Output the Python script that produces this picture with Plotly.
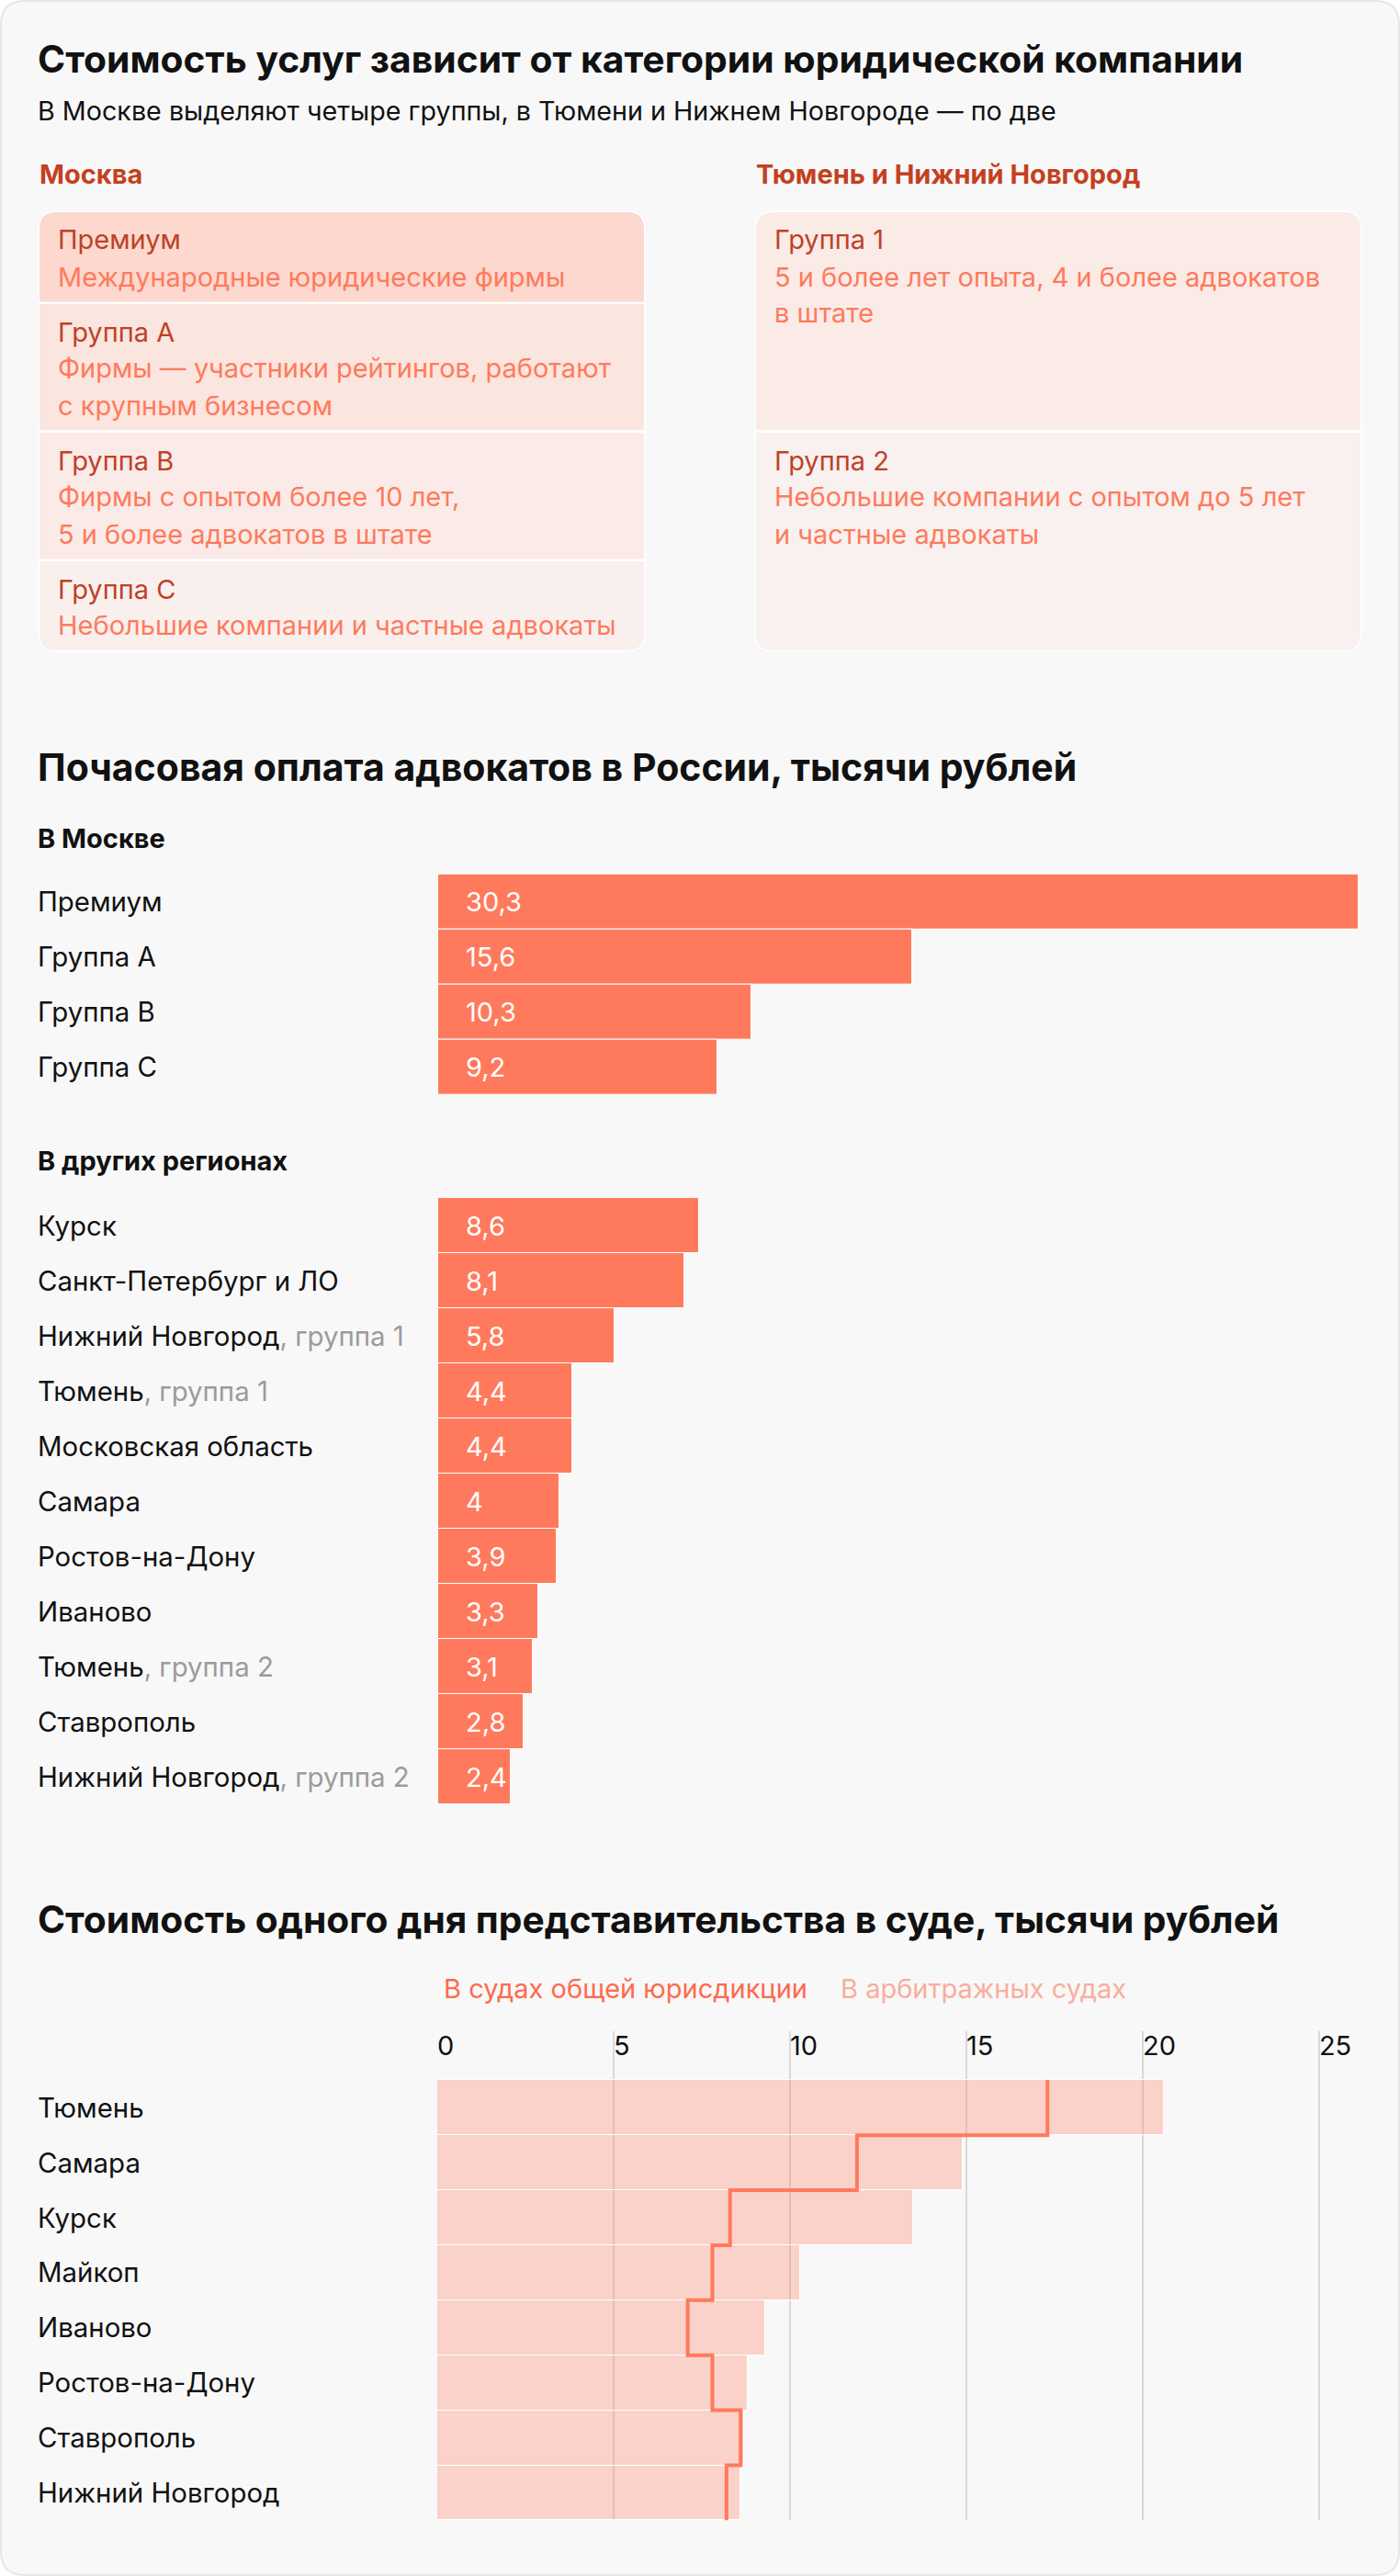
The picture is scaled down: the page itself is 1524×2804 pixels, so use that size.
import plotly.graph_objects as go

W, H = 1524, 2804
FONT = "Inter"

# ---------------- data ----------------
moscow_groups = ["Премиум", "Группа A", "Группа B", "Группа C"]
moscow_rates = [30.3, 15.6, 10.3, 9.2]

region_names = ["Курск", "Санкт-Петербург и ЛО", "Нижний Новгород", "Тюмень",
                "Московская область", "Самара", "Ростов-на-Дону", "Иваново",
                "Тюмень", "Ставрополь", "Нижний Новгород"]
region_groups = ["", "", ", группа 1", ", группа 1", "", "", "", "",
                 ", группа 2", "", ", группа 2"]
region_rates = [8.6, 8.1, 5.8, 4.4, 4.4, 4, 3.9, 3.3, 3.1, 2.8, 2.4]

court_cities = ["Тюмень", "Самара", "Курск", "Майкоп", "Иваново",
                "Ростов-на-Дону", "Ставрополь", "Нижний Новгород"]
court_general = [17.3, 11.9, 8.3, 7.8, 7.1, 7.8, 8.6, 8.2]
court_arbitration = [20.6, 14.9, 13.5, 10.3, 9.3, 8.8, 8.7, 8.6]
court_ticks = [0, 5, 10, 15, 20, 25]

moscow_table = [
    ("Премиум", ["Международные юридические фирмы"]),
    ("Группа A", ["Фирмы — участники рейтингов, работают", "с крупным бизнесом"]),
    ("Группа B", ["Фирмы с опытом более 10 лет,", "5 и более адвокатов в штате"]),
    ("Группа C", ["Небольшие компании и частные адвокаты"]),
]
regions_table = [
    ("Группа 1", ["5 и более лет опыта, 4 и более адвокатов", "в штате"]),
    ("Группа 2", ["Небольшие компании с опытом до 5 лет", "и частные адвокаты"]),
]

CORAL = "#ff7a5c"
DARK_RED = "#bf4126"
TITLE = "#111111"


def X(px):
    return px / W


def Y(py):
    return 1 - py / H


def rr(x0, y0, x1, y1, rt, rb):
    return (f"M{X(x0 + rt)},{Y(y0)} L{X(x1 - rt)},{Y(y0)} Q{X(x1)},{Y(y0)} {X(x1)},{Y(y0 + rt)} "
            f"L{X(x1)},{Y(y1 - rb)} Q{X(x1)},{Y(y1)} {X(x1 - rb)},{Y(y1)} "
            f"L{X(x0 + rb)},{Y(y1)} Q{X(x0)},{Y(y1)} {X(x0)},{Y(y1 - rb)} "
            f"L{X(x0)},{Y(y0 + rt)} Q{X(x0)},{Y(y0)} {X(x0 + rt)},{Y(y0)} Z")


shapes = []
annotations = []


def shape(path, fill, line=None, lw=0):
    shapes.append(dict(type="path", xref="paper", yref="paper", path=path,
                       fillcolor=fill, line=dict(color=line or fill, width=lw),
                       layer="below"))


def txt(x, y, s, size=29, color=TITLE, bold=False):
    annotations.append(dict(xref="paper", yref="paper", x=X(x), y=Y(y), text=s,
                            showarrow=False, xanchor="left", yanchor="middle",
                            font=dict(family=FONT, size=size, color=color,
                                      weight=700 if bold else 400)))


# card
shape(rr(1, 1, 1523, 2803, 26, 26), "#f8f8f8", "#e6e6e6", 2)

# ---------------- section 1 : tables ----------------
txt(39, 64, "Стоимость услуг зависит от категории юридической компании", 40.8, TITLE, True)
txt(39, 121, "В Москве выделяют четыре группы, в Тюмени и Нижнем Новгороде — по две", 28.7, TITLE)
txt(41, 190, "Москва", 29, "#c4401f", True)
txt(821, 190, "Тюмень и Нижний Новгород", 29, "#c4401f", True)

# left table
shape(rr(41.5, 229.5, 702.5, 709.5, 20, 20), "#ffffff")
left_rows = [(231, 328.5, "#fcd8cf"), (331, 468, "#fbe5df"), (471, 608.5, "#faebe8"), (611, 708, "#f9f0ee")]
for i, (t, b, c) in enumerate(left_rows):
    shape(rr(43, t, 701, b, 18 if i == 0 else 0, 18 if i == len(left_rows) - 1 else 0), c)
for (t, b, c), (head, lines) in zip(left_rows, moscow_table):
    txt(61, t + 30, head, 29, DARK_RED)
    for k, ln in enumerate(lines):
        txt(61, t + 70 + 40 * k, ln, 29, CORAL)

# right table
shape(rr(821.5, 229.5, 1482.5, 709.5, 20, 20), "#ffffff")
right_rows = [(231, 468, "#fbebe7"), (471, 708, "#f8f1ef")]
for i, (t, b, c) in enumerate(right_rows):
    shape(rr(823, t, 1481, b, 18 if i == 0 else 0, 18 if i == 1 else 0), c)
for (t, b, c), (head, lines) in zip(right_rows, regions_table):
    txt(841, t + 30, head, 29, DARK_RED)
    for k, ln in enumerate(lines):
        txt(841, t + 70 + 40 * k, ln, 29, CORAL)

# ---------------- section 2 : hourly rates ----------------
txt(39, 835, "Почасовая оплата адвокатов в России, тысячи рублей", 41, TITLE, True)
txt(39, 912, "В Москве", 29, TITLE, True)
txt(39, 1264, "В других регионах", 29, TITLE, True)


def fmt(v):
    return f"{v:g}".replace(".", ",")


fig = go.Figure()

fig.add_trace(go.Bar(x=moscow_rates, y=list(range(len(moscow_rates))), orientation="h",
                     width=1, marker=dict(color=CORAL, line=dict(color="#ffffff", width=1)),
                     xaxis="x", yaxis="y", hoverinfo="skip"))
fig.add_trace(go.Bar(x=region_rates, y=list(range(len(region_rates))), orientation="h",
                     width=1, marker=dict(color=CORAL, line=dict(color="#ffffff", width=1)),
                     xaxis="x2", yaxis="y2", hoverinfo="skip"))

LBL = 29.4
for i, (name, v) in enumerate(zip(moscow_groups, moscow_rates)):
    annotations.append(dict(xref="paper", yref="y", x=X(39), y=i, text=name, showarrow=False,
                            xanchor="left", yanchor="middle",
                            font=dict(family=FONT, size=LBL, color=TITLE)))
    annotations.append(dict(xref="x", yref="y", x=0, y=i, xshift=28, text=fmt(v), showarrow=False,
                            xanchor="left", yanchor="middle",
                            font=dict(family=FONT, size=29, color="#ffffff")))

for i, (name, grp, v) in enumerate(zip(region_names, region_groups, region_rates)):
    label = name + (f"<span style='color:#9b9b9b'>{grp}</span>" if grp else "")
    annotations.append(dict(xref="paper", yref="y2", x=X(39), y=i, text=label, showarrow=False,
                            xanchor="left", yanchor="middle",
                            font=dict(family=FONT, size=LBL, color=TITLE)))
    annotations.append(dict(xref="x2", yref="y2", x=0, y=i, xshift=28, text=fmt(v), showarrow=False,
                            xanchor="left", yanchor="middle",
                            font=dict(family=FONT, size=29, color="#ffffff")))

# ---------------- section 3 : court day ----------------
txt(39, 2089, "Стоимость одного дня представительства в суде, тысячи рублей", 40.7, TITLE, True)
txt(481, 2164, "В судах общей юрисдикции", 29, "#ff6a4d")
txt(913, 2164, "В арбитражных судах", 29, "#f8ae9d")

fig.add_trace(go.Bar(x=court_arbitration, y=list(range(len(court_arbitration))), orientation="h",
                     width=1, marker=dict(color="rgba(255,122,92,0.30)", line=dict(color="#ffffff", width=1)),
                     xaxis="x3", yaxis="y3", hoverinfo="skip"))

step_x, step_y = [], []
for i, v in enumerate(court_general):
    step_x += [v, v]
    step_y += [i - 0.5, i + 0.5]
fig.add_trace(go.Scatter(x=step_x, y=step_y, mode="lines",
                         line=dict(color=CORAL, width=4),
                         xaxis="x3", yaxis="y3", hoverinfo="skip"))

for i, name in enumerate(court_cities):
    annotations.append(dict(xref="paper", yref="y3", x=X(39), y=i, text=name, showarrow=False,
                            xanchor="left", yanchor="middle",
                            font=dict(family=FONT, size=LBL, color=TITLE)))

hidden = dict(visible=False, showgrid=False, zeroline=False, fixedrange=True)

fig.update_layout(
    width=W, height=H,
    margin=dict(l=0, r=0, t=0, b=0),
    paper_bgcolor="#ffffff", plot_bgcolor="rgba(0,0,0,0)",
    showlegend=False, bargap=0,
    font=dict(family=FONT),
    xaxis=dict(domain=[X(477), X(1482)], range=[0, 30.39], anchor="y", **hidden),
    yaxis=dict(domain=[Y(1191.7), Y(951.7)], range=[3.5, -0.5], anchor="x", **hidden),
    xaxis2=dict(domain=[X(477), X(1482)], range=[0, 30.39], anchor="y2", **hidden),
    yaxis2=dict(domain=[Y(1964), Y(1304)], range=[10.5, -0.5], anchor="x2", **hidden),
    xaxis3=dict(domain=[X(476), X(1482)], range=[0, 26.2], anchor="y3", side="top",
                tickmode="array", tickvals=court_ticks, ticktext=[str(t) for t in court_ticks],
                showgrid=True, gridcolor="#d9d9d9", gridwidth=1.5, zeroline=False,
                showline=False, ticks="", ticklabelposition="inside right",
                tickfont=dict(family=FONT, size=29, color=TITLE), fixedrange=True),
    yaxis3=dict(domain=[Y(2743.4), Y(2211)], range=[7.5, -1.39], anchor="x3", **hidden),
    shapes=shapes,
    annotations=annotations,
)

fig.write_html("out.html", config={"displayModeBar": False},
               post_script="document.body.style.margin='0';document.body.style.overflow='hidden';")
